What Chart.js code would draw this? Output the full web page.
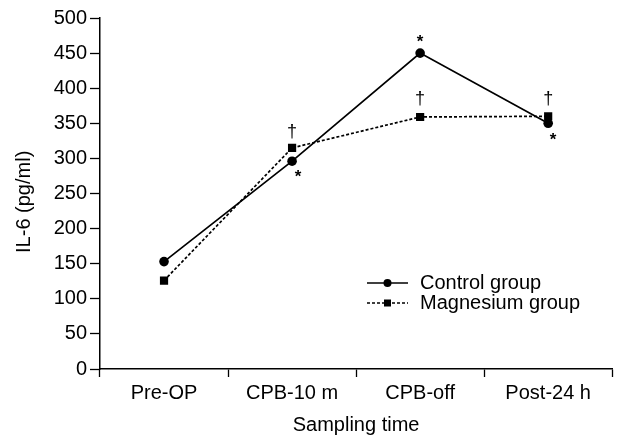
<!DOCTYPE html>
<html>
<head>
<meta charset="utf-8">
<script src="https://cdn.jsdelivr.net/npm/chart.js@4"></script>
<style>
    html, body { margin: 0; padding: 0; background: #fff; }
    #wrap { width: 618px; height: 442px; }
</style>
</head>
<body>
<div id="wrap"><canvas id="il6Chart" width="618" height="442"></canvas></div>
<script>
// categories and values
var sampleTimes = ["Pre-OP", "CPB-10 m", "CPB-off", "Post-24 h"];
var controlValues = [153, 296, 450, 350];
var magnesiumValues = [126, 315, 359, 360];
var controlMarks = ["", "*", "*", "*"];
var magnesiumMarks = ["", "†", "†", "†"];
var yTicks = [0, 50, 100, 150, 200, 250, 300, 350, 400, 450, 500];

var FONT = "'Liberation Sans', Arial, sans-serif";

// draws the * and † signs next to the points
var marksPlugin = {
    id: "marks",
    afterDatasetsDraw: function (chart, args, opts) {
        var ctx = chart.ctx;
        ctx.save();
        ctx.fillStyle = "#000";
        ctx.textAlign = "center";
        ctx.textBaseline = "middle";
        opts.sets.forEach(function (set) {
            var meta = chart.getDatasetMeta(set.dataset);
            set.marks.forEach(function (mark, i) {
                if (!mark) return;
                var pt = meta.data[i];
                var off = set.offsets[i];
                ctx.font = (mark === "*" ? "bold 17px " : "18px ") + FONT;
                ctx.fillText(mark, pt.x + off[0], pt.y + off[1]);
            });
        });
        ctx.restore();
    }
};

// legend inside the plot area
var innerLegend = {
    id: "innerLegend",
    afterDraw: function (chart, args, opts) {
        var ctx = chart.ctx;
        ctx.save();
        chart.data.datasets.forEach(function (ds, i) {
            var y = opts.y + i * opts.rowGap;
            ctx.strokeStyle = "#000";
            ctx.lineWidth = ds.borderWidth;
            ctx.setLineDash(ds.borderDash || []);
            ctx.beginPath();
            ctx.moveTo(opts.x, y);
            ctx.lineTo(opts.x + opts.lineLen, y);
            ctx.stroke();
            ctx.setLineDash([]);
            ctx.fillStyle = "#000";
            var cx = opts.x + opts.lineLen / 2;
            if (ds.pointStyle === "rect") {
                ctx.fillRect(cx - 3.5, y - 3.5, 7, 7);
            } else {
                ctx.beginPath();
                ctx.arc(cx, y, 4, 0, Math.PI * 2);
                ctx.fill();
            }
            ctx.font = "20px " + FONT;
            ctx.textBaseline = "middle";
            ctx.fillText(ds.label, opts.x + opts.lineLen + 12, y);
        });
        ctx.restore();
    }
};

new Chart(document.getElementById("il6Chart"), {
    type: "line",
    data: {
        labels: sampleTimes,
        datasets: [
            {
                label: "Control group",
                data: controlValues,
                borderColor: "#000",
                backgroundColor: "#000",
                borderWidth: 1.7,
                pointStyle: "circle",
                pointRadius: 4.8,
                pointBorderWidth: 0,
                tension: 0
            },
            {
                label: "Magnesium group",
                data: magnesiumValues,
                borderColor: "#000",
                backgroundColor: "#000",
                borderWidth: 1.7,
                borderDash: [3, 2],
                pointStyle: "rect",
                pointRadius: 5.8,
                pointBorderWidth: 0,
                tension: 0
            }
        ]
    },
    options: {
        responsive: false,
        animation: false,
        layout: { padding: { top: 18, right: 5, left: 0, bottom: 0 } },
        plugins: {
            legend: { display: false },
            tooltip: { enabled: false },
            marks: {
                sets: [
                    { dataset: 0, marks: controlMarks, offsets: [[0, 0], [6, 16], [0, -11], [5, 17]] },
                    { dataset: 1, marks: magnesiumMarks, offsets: [[0, 0], [0, -16], [0, -18], [0, -17]] }
                ]
            },
            innerLegend: { x: 367, y: 283, rowGap: 20, lineLen: 41 }
        },
        scales: {
            x: {
                offset: true,
                grid: {
                    offset: true,
                    drawOnChartArea: false,
                    drawTicks: true,
                    tickLength: 8,
                    color: "#000",
                    tickWidth: 1.3
                },
                border: { color: "#000", width: 1.5 },
                ticks: {
                    color: "#000",
                    padding: 4,
                    font: { family: FONT, size: 20 }
                },
                title: {
                    display: true,
                    text: "Sampling time",
                    color: "#000",
                    padding: { top: 0, bottom: 5 },
                    font: { family: FONT, size: 20 }
                },
                afterFit: function (scale) { scale.height = 73; }
            },
            y: {
                min: 0,
                max: 500,
                afterBuildTicks: function (scale) {
                    scale.ticks = yTicks.map(function (v) { return { value: v }; });
                },
                grid: {
                    drawOnChartArea: false,
                    drawTicks: true,
                    tickLength: 10,
                    color: "#000",
                    tickWidth: 1.3
                },
                border: { color: "#000", width: 1.5 },
                ticks: {
                    color: "#000",
                    padding: 3,
                    font: { family: FONT, size: 20 }
                },
                title: {
                    display: true,
                    text: "IL-6 (pg/ml)   ",
                    color: "#000",
                    padding: { top: 12, bottom: 0 },
                    font: { family: FONT, size: 20 }
                },
                afterFit: function (scale) { scale.width = 100; }
            }
        }
    },
    plugins: [marksPlugin, innerLegend]
});
</script>
</body>
</html>
